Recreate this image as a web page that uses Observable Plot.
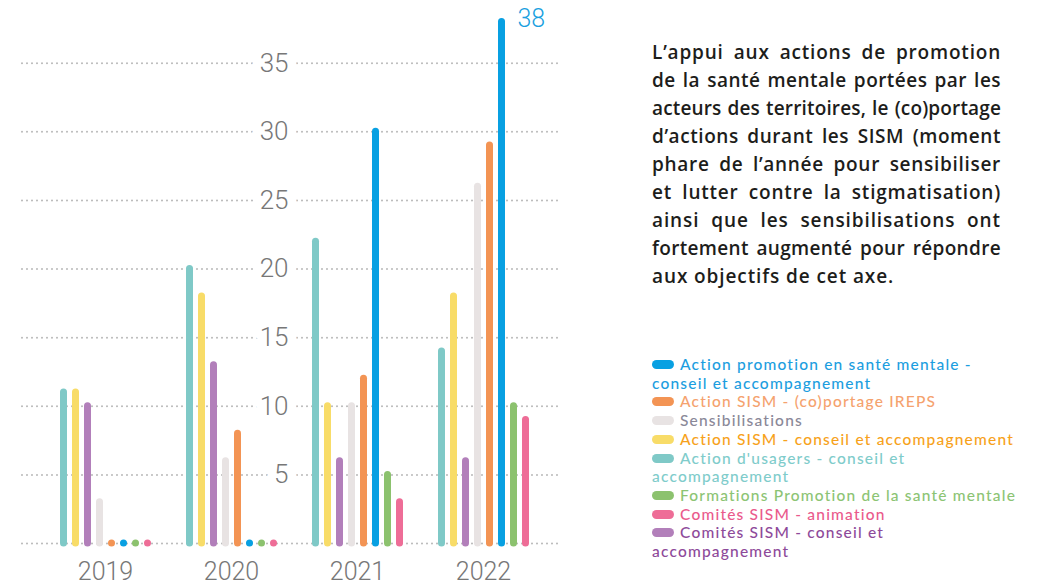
<!DOCTYPE html>
<html>
<head>
<meta charset="utf-8">
<script src="https://cdn.jsdelivr.net/npm/d3@7"></script>
<script src="https://cdn.jsdelivr.net/npm/@observablehq/plot@0.6"></script>
<style>
  html, body { margin: 0; padding: 0; background: #fff; }
  body { width: 1038px; height: 587px; position: relative; overflow: hidden; }
  .layer { position: absolute; left: 0; top: 0; }
  #note { position: absolute; left: 652px; top: 38px; width: 349px;
    font-family: "Open Sans", "Lato", sans-serif; font-weight: 600; font-size: 19px;
    line-height: 28px; color: #1d1d1b; }
  #note span { display: block; white-space: nowrap; text-align: justify; text-align-last: justify; }
  #note span.last { text-align-last: left; }
  #legend { position: absolute; left: 652px; top: 355px;
    font-family: "Lato", "Open Sans", sans-serif; font-weight: 500; font-size: 15.5px; line-height: 18.7px; }
  #legend .item { white-space: nowrap; }
  #legend .sw { display: inline-block; width: 22px; height: 9px; border-radius: 5px; margin-right: 6px; vertical-align: 1px; }
</style>
</head>
<body>
<div id="grid" class="layer"></div>
<div id="bars" class="layer"></div>
<div id="note"></div>
<div id="legend"></div>
<script>
// ---- data ----
const years = ["2019", "2020", "2021", "2022"];
const series = [
  "Action d'usagers - conseil et accompagnement",
  "Action SISM - conseil et accompagnement",
  "Comités SISM - conseil et accompagnement",
  "Sensibilisations",
  "Action SISM - (co)portage IREPS",
  "Action promotion en santé mentale - conseil et accompagnement",
  "Formations Promotion de la santé mentale",
  "Comités SISM - animation"
];
const usagers          = [11, 20, 22, 14];
const sismConseil      = [11, 18, 10, 18];
const comitesConseil   = [10, 13, 6, 6];
const sensibilisations = [3, 6, 10, 26];
const ireps            = [0, 8, 12, 29];
const promotion        = [0, 0, 30, 38];
const formations       = [0, 0, 5, 10];
const comitesAnimation = [0, 0, 3, 9];
const seriesValues = [usagers, sismConseil, comitesConseil, sensibilisations, ireps, promotion, formations, comitesAnimation];
const barColors  = ["#7fc9c7", "#f8dc68", "#b27fba", "#e8e3e3", "#f39454", "#08a0e2", "#8cc26e", "#ee6d97"];
const textColors = ["#80cccb", "#f7a21b", "#8e4a9a", "#8a8898", "#f5a26e", "#1c9ee0", "#8cc474", "#ea5a8c"];
const yTicks = [0, 5, 10, 15, 20, 25, 30, 35];
const legendOrder = [5, 4, 3, 1, 0, 6, 7, 2];
const legendLabels = [
  "Action d'usagers - conseil et\naccompagnement",
  "Action SISM - conseil et accompagnement",
  "Comités SISM - conseil et\naccompagnement",
  "Sensibilisations",
  "Action SISM - (co)portage IREPS",
  "Action promotion en santé mentale -\nconseil et accompagnement",
  "Formations Promotion de la santé mentale",
  "Comités SISM - animation"
];
const noteLines = [
  "L’appui aux actions de promotion",
  "de la santé mentale portées par les",
  "acteurs des territoires, le (co)portage",
  "d’actions durant les SISM (moment",
  "phare de l’année pour sensibiliser",
  "et lutter contre la stigmatisation)",
  "ainsi que les sensibilisations ont",
  "fortement augmenté pour répondre",
  "aux objectifs de cet axe."
];

const rows = [];
series.forEach((s, i) => years.forEach((y, j) => rows.push({series: s, year: y, value: seriesValues[i][j]})));
const maxRow = rows.reduce((a, b) => (b.value > a.value ? b : a));

const H = 587, W = 600;
const yScale = {domain: [0, 38], range: [543, 21.6], axis: null};

// background grid + y labels
const grid = Plot.plot({
  width: W, height: H,
  marginLeft: 22, marginRight: 38, marginTop: 21.6, marginBottom: 44,
  y: yScale,
  style: {background: "transparent", fontFamily: "Roboto, sans-serif", fontWeight: 300},
  marks: [
    Plot.ruleY(yTicks, {stroke: "#b8b8b8", strokeWidth: 2, strokeDasharray: "0,5", strokeLinecap: "round"}),
    Plot.text(yTicks.filter(t => t > 0), {
      y: d => d, text: d => String(d), frameAnchor: "left", dx: 266, textAnchor: "end",
      fontSize: 26, fill: "#777", stroke: "white", strokeWidth: 18, paintOrder: "stroke"
    })
  ]
});
document.getElementById("grid").appendChild(grid);

// bars
const bars = Plot.plot({
  width: W, height: H,
  marginLeft: 42, marginRight: 54, marginTop: 21.6, marginBottom: 44,
  y: yScale,
  x: {type: "point", domain: series, padding: 1.5, axis: null},
  fx: {domain: years, paddingInner: 0, paddingOuter: 0, label: null, tickSize: 0, tickPadding: 19},
  color: {domain: series, range: barColors},
  style: {background: "transparent", fontFamily: "Roboto, sans-serif", fontWeight: 300, fontSize: "25px", color: "#777"},
  marks: [
    Plot.ruleX(rows, {fx: "year", x: "series", y1: 0, y2: "value", stroke: "series", strokeWidth: 7, strokeLinecap: "round"}),
    Plot.text([maxRow], {fx: "year", x: "series", y: "value", text: d => String(d.value), dx: 16, dy: -3,
      textAnchor: "start", fill: "#1a9fe0", fontSize: 25})
  ]
});
document.getElementById("bars").appendChild(bars);

// note text: justified lines, part of the slack taken up by letter spacing
const note = document.getElementById("note");
const noteWidth = 349;
noteLines.forEach((l, i) => {
  const s = document.createElement("span");
  s.textContent = l;
  const last = i === noteLines.length - 1;
  if (last) s.className = "last";
  note.appendChild(s);
  s.style.display = "inline-block";
  const natural = s.getBoundingClientRect().width;
  s.style.display = "";
  const slack = noteWidth - natural;
  if (slack > 0) {
    const ls = Math.min(0.9, (slack * 0.6) / l.length);
    s.style.letterSpacing = ls.toFixed(2) + "px";
  }
});

// legend
const legend = document.getElementById("legend");
let widest = null;
legendOrder.forEach(i => {
  const div = document.createElement("div");
  div.className = "item";
  div.style.color = textColors[i];
  const sw = document.createElement("span");
  sw.className = "sw";
  sw.style.background = barColors[i];
  div.appendChild(sw);
  const lbl = document.createElement("span");
  legendLabels[i].split("\n").forEach((part, k) => {
    if (k > 0) lbl.appendChild(document.createElement("br"));
    lbl.appendChild(document.createTextNode(part));
  });
  div.appendChild(lbl);
  legend.appendChild(div);
  if (legendLabels[i] === "Formations Promotion de la santé mentale") widest = lbl;
});
// widen letter spacing so the longest single line ends where the reference's does (~341px)
if (widest) {
  const w = widest.getBoundingClientRect().width;
  const n = widest.textContent.length;
  const ls = Math.max(0, Math.min(1.2, (341 - w) / n));
  legend.style.letterSpacing = ls.toFixed(2) + "px";
}
</script>
</body>
</html>
